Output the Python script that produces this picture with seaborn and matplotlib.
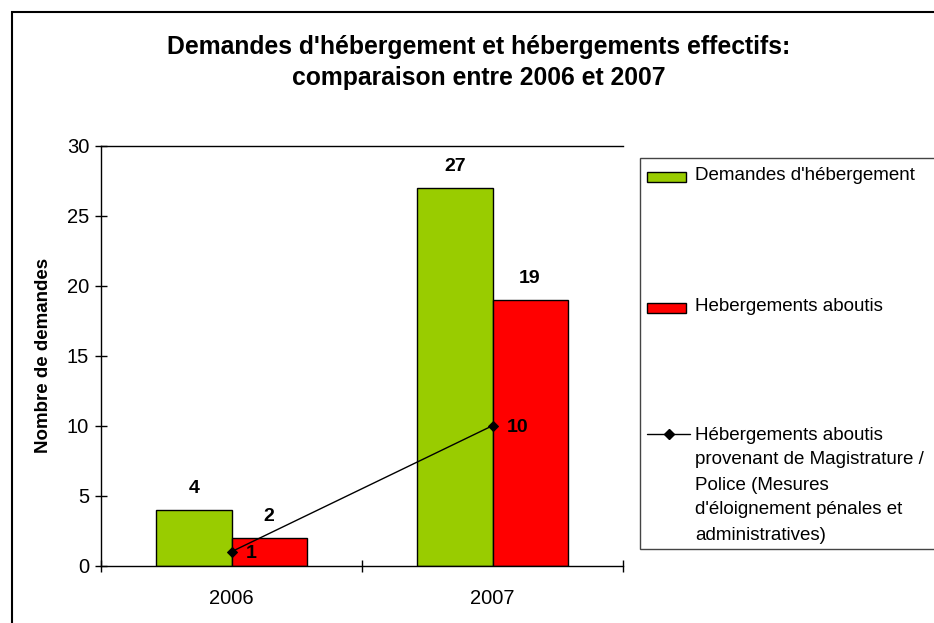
"""
Demandes d'hébergement vs hébergements effectifs, 2006 / 2007.
"""
import pandas as pd
import seaborn as sns
import matplotlib.pyplot as plt
from matplotlib.patches import Rectangle
from matplotlib.lines import Line2D

years = ["2006", "2007"]
demandes = [4, 27]
aboutis = [2, 19]
magistrature = [1, 10]

series_names = ["Demandes d'hébergement", "Hebergements aboutis"]
line_label = ["Hébergements aboutis",
              "provenant de Magistrature /",
              "Police (Mesures",
              "d'éloignement pénales et",
              "administratives)"]
title_lines = ["Demandes d'hébergement et hébergements effectifs:",
               "comparaison entre 2006 et 2007"]
colors = ["#99CC00", "#FF0000"]

W, H = 934, 623


def fx(x):
    return x / W


def fy(y):
    return 1 - y / H


sns.set_theme(style="white")
plt.rcParams["font.family"] = ["Liberation Sans", "DejaVu Sans"]
plt.rcParams["text.color"] = "black"
plt.rcParams["axes.labelcolor"] = "black"
plt.rcParams["xtick.color"] = "black"
plt.rcParams["ytick.color"] = "black"

df = pd.DataFrame({
    "year": years * 2,
    "serie": [series_names[0]] * 2 + [series_names[1]] * 2,
    "value": demandes + aboutis,
})

fig = plt.figure(figsize=(W / 100, H / 100), dpi=100)
ax = fig.add_axes([fx(101), fy(565.7), 522 / W, 420 / H])

sns.barplot(data=df, x="year", y="value", hue="serie", order=years,
            hue_order=series_names, palette=colors, width=0.575,
            edgecolor="black", linewidth=1, saturation=1, ax=ax, legend=False)
sns.lineplot(x=years, y=magistrature, color="black", linewidth=1,
             marker="D", markersize=5.5, markeredgecolor="black", ax=ax)

for cont in ax.containers:
    ax.bar_label(cont, fmt="%d", padding=9, fontsize=14, fontweight="bold")

for i, v in enumerate(magistrature):
    ax.annotate(str(v), (i, v), xytext=(10, -1), textcoords="offset points",
                ha="left", va="center", fontsize=14, fontweight="bold")

ax.set_xlim(-0.5, 1.5)
ax.set_ylim(0, 30)
ax.set_yticks(range(0, 31, 5))
ax.tick_params(axis="y", direction="inout", length=9, width=1,
               labelsize=14.5, pad=4, left=True)
ax.set_xticks([-0.5, 0.5, 1.5])
ax.set_xticklabels([])
ax.set_xticks([0, 1], minor=True)
ax.set_xticklabels(years, minor=True)
ax.tick_params(axis="x", which="major", direction="inout", length=9, width=1,
               bottom=True)
ax.tick_params(axis="x", which="minor", length=0, labelsize=14.5, pad=17)
ax.set_xlabel("")
ax.set_ylabel("Nombre de demandes", fontsize=13.5, fontweight="bold", labelpad=11)
for side in ["left", "bottom", "top"]:
    ax.spines[side].set_color("black")
    ax.spines[side].set_linewidth(1)
ax.spines["right"].set_visible(False)

# titre
fig.text(fx(479), fy(47), title_lines[0], ha="center", va="center",
         fontsize=17.8, fontweight="bold")
fig.text(fx(479), fy(78), title_lines[1], ha="center", va="center",
         fontsize=17.8, fontweight="bold")

# cadre extérieur
fig.add_artist(Rectangle((fx(12), -0.05), 1.1, fy(12) + 0.05,
                         transform=fig.transFigure, fill=False,
                         edgecolor="black", linewidth=1.5, clip_on=False))

# légende dessinée à la main
fig.add_artist(Rectangle((fx(640), fy(549)), (950 - 640) / W, (549 - 158) / H,
                         transform=fig.transFigure, facecolor="white",
                         edgecolor="#444444", linewidth=1, clip_on=False))
for c, yc, name in zip(colors, [176.5, 307.5], series_names):
    fig.add_artist(Rectangle((fx(647), fy(yc + 5)), 39 / W, 10 / H,
                             transform=fig.transFigure, facecolor=c,
                             edgecolor="black", linewidth=1))
    fig.text(fx(695), fy(yc - 1), name, ha="left", va="center", fontsize=13.5)

fig.add_artist(Line2D([fx(647), fx(690)], [fy(434), fy(434)], color="black",
                      linewidth=1, transform=fig.transFigure))
fig.add_artist(Line2D([fx(669)], [fy(434)], color="black", marker="D",
                      markersize=5.5, transform=fig.transFigure))
for k, txt in enumerate(line_label):
    fig.text(fx(695), fy(435 + 25 * k), txt, ha="left", va="center",
             fontsize=13.5)

fig.savefig("out.png", dpi=100)
